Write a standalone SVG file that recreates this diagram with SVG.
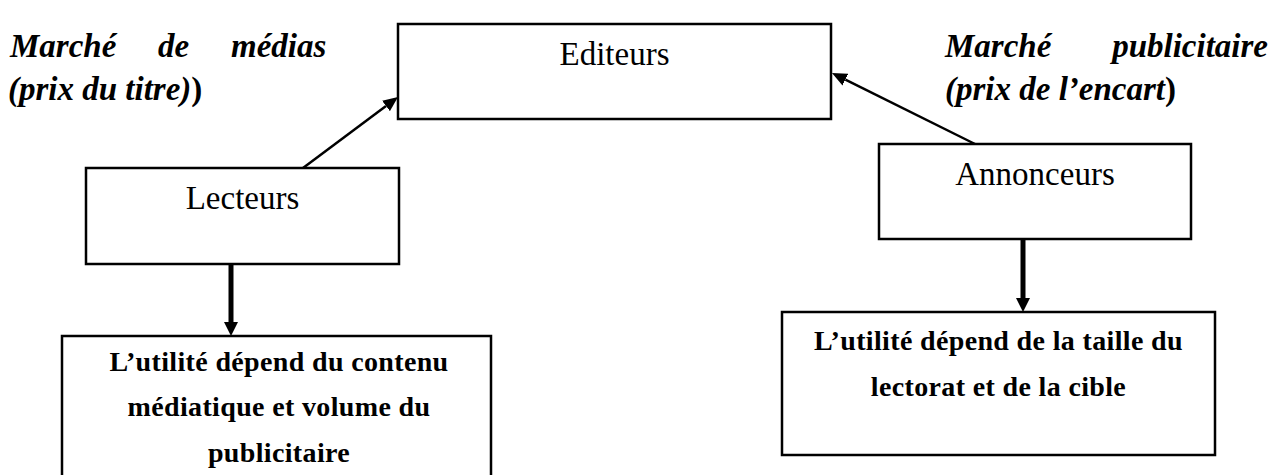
<svg xmlns="http://www.w3.org/2000/svg" width="1272" height="475" viewBox="0 0 1272 475">
  <style>
    text { font-family: "Liberation Serif", "Times New Roman", serif; fill: #000; }
    .box { fill: #fff; stroke: #000; stroke-width: 2.5; }
    .label { font-size: 33px; text-anchor: middle; }
    .note { font-size: 28px; font-weight: bold; text-anchor: middle; letter-spacing: 0.35px; }
    .title { font-size: 33px; font-weight: bold; font-style: italic; }
    .upright { font-style: normal; }
    .thin { stroke: #000; stroke-width: 2.5; fill: none; }
    .thick { stroke: #000; stroke-width: 5; fill: none; }
  </style>
  <defs>
    <marker id="headThin" markerUnits="userSpaceOnUse" markerWidth="15" markerHeight="13" refX="0" refY="6.5" orient="auto">
      <path d="M0,0 L15,6.5 L0,13 z" fill="#000"/>
    </marker>
    <marker id="headThick" markerUnits="userSpaceOnUse" markerWidth="14" markerHeight="14" refX="0" refY="7" orient="auto">
      <path d="M0,0 L14,7 L0,14 z" fill="#000"/>
    </marker>
  </defs>

  <rect width="1272" height="475" fill="#fff"/>

  <!-- market headings -->
  <g id="title-left">
    <text class="title" y="57"><tspan x="10">Marché</tspan><tspan x="158">de</tspan><tspan x="231">médias</tspan></text>
    <text class="title" x="8" y="100">(prix du titre)<tspan class="upright">)</tspan></text>
  </g>
  <g id="title-right">
    <text class="title" y="57"><tspan x="945">Marché</tspan><tspan x="1268" text-anchor="end">publicitaire</tspan></text>
    <text class="title" x="945" y="100">(prix de l’encart<tspan class="upright">)</tspan></text>
  </g>

  <!-- connectors -->
  <g id="connectors">
    <line class="thin" x1="303" y1="168" x2="386" y2="106" marker-end="url(#headThin)"/>
    <line class="thin" x1="975" y1="144" x2="845.4" y2="79.7" marker-end="url(#headThin)"/>
    <line class="thick" x1="231" y1="264" x2="231" y2="322" marker-end="url(#headThick)"/>
    <line class="thick" x1="1023" y1="239" x2="1023" y2="298" marker-end="url(#headThick)"/>
  </g>

  <!-- nodes -->
  <g id="editeurs">
    <rect class="box" x="398" y="24" width="433" height="95"/>
    <text class="label" x="614.5" y="65">Editeurs</text>
  </g>
  <g id="lecteurs">
    <rect class="box" x="86" y="168" width="313" height="96"/>
    <text class="label" x="242.5" y="209">Lecteurs</text>
  </g>
  <g id="annonceurs">
    <rect class="box" x="879" y="144" width="312" height="95"/>
    <text class="label" x="1035" y="185">Annonceurs</text>
  </g>
  <g id="utilite-lecteurs">
    <rect class="box" x="62" y="336" width="429" height="150"/>
    <text class="note" x="279" y="371">L’utilité dépend du contenu</text>
    <text class="note" x="279" y="416">médiatique et volume du</text>
    <text class="note" x="279" y="462">publicitaire</text>
  </g>
  <g id="utilite-annonceurs">
    <rect class="box" x="782" y="312" width="433" height="143"/>
    <text class="note" x="998.5" y="350">L’utilité dépend de la taille du</text>
    <text class="note" x="998.5" y="396">lectorat et de la cible</text>
  </g>
</svg>
